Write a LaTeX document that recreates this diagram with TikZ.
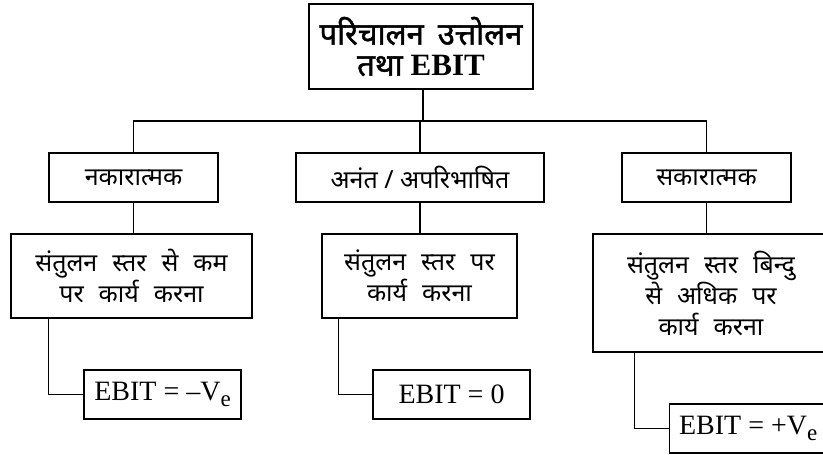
\documentclass[tikz,border=0pt]{standalone}
\usepackage{fontspec}
\setmainfont{Liberation Serif}
\newfontfamily\deva[Script=Devanagari]{Noto Sans}
\newfontfamily\devab[Script=Devanagari,FakeBold=1.5]{Noto Sans}
\newcommand{\subE}{\raisebox{-6pt}{\fontsize{23}{23}\selectfont e}}
\newcommand{\gap}{\hspace{15pt}}
\begin{document}
\begin{tikzpicture}[x=1pt,y=-1pt,
  line width=1.3pt,
  box/.style={draw, line width=1.3pt, inner sep=0pt, align=center, font=\deva\fontsize{25}{31}\selectfont},
  ebox/.style={draw, line width=1.3pt, inner sep=0pt, minimum width=157pt, minimum height=49pt, font=\fontsize{28}{30}\selectfont},
  conn/.style={line width=1.3pt}]
\useasboundingbox (0,0) rectangle (823,455);
\clip (0,0) rectangle (823,455);
\node[box, minimum width=224pt, minimum height=85pt, font=\devab\fontsize{31}{33}\selectfont] (top) at (421,46.5) {परिचालन\hspace{14pt}उत्तोलन\\[-2pt]तथा {\rmfamily\bfseries EBIT}};
\node[box, minimum width=169pt, minimum height=49pt] (neg) at (133.5,177.5) {नकारात्मक};
\node[box, minimum width=248pt, minimum height=49pt] (inf) at (420,177.5) {अनंत / अपरिभाषित};
\node[box, minimum width=169pt, minimum height=49pt] (pos) at (706.5,177.5) {सकारात्मक};
\node[box, minimum width=241pt, minimum height=84pt] (negb) at (131.5,276) {संतुलन\gap स्तर\gap से\gap कम\\पर\gap कार्य\gap करना};
\node[box, minimum width=195pt, minimum height=84pt] (infb) at (419.5,276) {संतुलन\gap स्तर\gap पर\\कार्य\gap करना};
\node[box, minimum width=236pt, minimum height=118pt] (posb) at (711,293) {संतुलन\gap स्तर\gap बिन्दु\\से\gap अधिक\gap पर\\कार्य\gap करना};
\node[ebox] (nege) at (162.5,394.5) {EBIT = –V\subE};
\node[ebox] (infe) at (451.5,394.5) {EBIT = 0};
\node[ebox, anchor=west] (pose) at (669,428.5) {EBIT = +V\subE};
\coordinate (bus) at (423,121);
\draw[conn] (top.south -| bus) -- (bus);
\draw[conn] (neg.north) |- (bus) -| (pos.north);
\draw[conn] (inf.north) -- (inf.north |- bus);
\draw[conn] (neg.south) -- (negb.north -| neg.south);
\draw[conn] (inf.south) -- (infb.north -| inf.south);
\draw[conn] (pos.south) -- (posb.north -| pos.south);
\draw[conn] ([xshift=38pt]negb.south west) |- (nege.west);
\draw[conn] ([xshift=17pt]infb.south west) |- (infe.west);
\draw[conn] ([xshift=42pt]posb.south west) |- (pose.west);
\end{tikzpicture}
\end{document}
